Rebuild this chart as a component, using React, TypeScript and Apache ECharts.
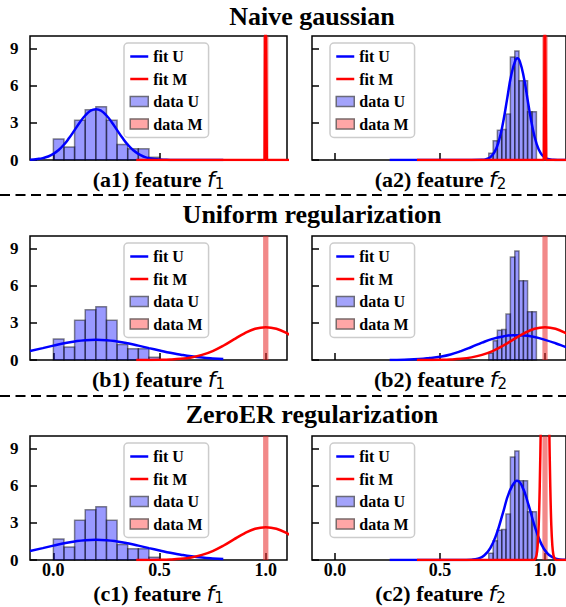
import React, { useEffect, useRef } from 'react';
import * as echarts from 'echarts';

// ---------------- data ----------------
const rowTitles = ['Naive gaussian', 'Uniform regularization', 'ZeroER regularization'];
const panelTags = ['a1', 'a2', 'b1', 'b2', 'c1', 'c2'];
const panelFeature = ['1', '2', '1', '2', '1', '2'];
const legendNames = ['fit U', 'fit M', 'data U', 'data M'];
const xTickValues = [0, 0.5, 1.0];
const yTickValues = [0, 3, 6, 9];

// histogram of unmatched pairs (density), feature f1
const f1BinEdges = [0, 0.05, 0.1, 0.15, 0.2, 0.25, 0.3, 0.35, 0.4, 0.45, 0.5];
const f1Density = [1.7, 1.05, 3.2, 4.05, 4.3, 3.2, 1.25, 0.9, 0.9, 0.22];
// histogram of unmatched pairs (density), feature f2
const f2BinEdges = [0.732, 0.753, 0.773, 0.794, 0.814, 0.835, 0.856, 0.876, 0.897, 0.917, 0.938, 0.959];
const f2Density = [0.55, 1.55, 2.4, 2.45, 3.7, 8.3, 8.8, 6.4, 6.4, 3.9, 3.9];
// histogram of matched pairs (all at 1.0)
const mBinEdges = [0.9875, 1.0125];
const mDensity = [40];

// fitted curves [x, density]
const a1FitU = [[-0.11, 0.02], [-0.075, 0.08], [-0.05, 0.15], [-0.025, 0.28], [0, 0.49], [0.025, 0.81], [0.05, 1.24], [0.075, 1.79], [0.1, 2.41], [0.125, 3.05], [0.15, 3.59], [0.175, 3.97], [0.2, 4.1], [0.225, 3.97], [0.25, 3.59], [0.275, 3.05], [0.3, 2.41], [0.325, 1.79], [0.35, 1.24], [0.375, 0.81], [0.4, 0.49], [0.425, 0.28], [0.45, 0.15], [0.5, 0.04], [0.55, 0.01], [0.6, 0], [0.8, 0]];
const a1FitM = [[0.39, 0], [0.995, 0], [0.999, 14], [1.001, 14], [1.005, 0], [1.15, 0]];
const a2FitU = [[0.26, 0], [0.6, 0], [0.7, 0.018], [0.72, 0.07], [0.74, 0.23], [0.76, 0.65], [0.78, 1.53], [0.8, 3.0], [0.82, 4.97], [0.84, 6.92], [0.86, 8.09], [0.868, 8.2], [0.88, 7.95], [0.9, 6.57], [0.92, 4.56], [0.94, 2.66], [0.96, 1.31], [0.98, 0.54], [1.0, 0.19], [1.02, 0.055], [1.04, 0.013], [1.06, 0], [1.15, 0]];
const a2FitM = [[0.39, 0], [0.995, 0], [0.999, 14], [1.001, 14], [1.005, 0], [1.15, 0]];
const b1FitU = [[-0.11, 0.73], [-0.05, 0.96], [0, 1.16], [0.05, 1.35], [0.1, 1.5], [0.15, 1.6], [0.2, 1.63], [0.25, 1.6], [0.3, 1.5], [0.35, 1.35], [0.4, 1.16], [0.45, 0.96], [0.5, 0.77], [0.55, 0.58], [0.6, 0.43], [0.65, 0.3], [0.7, 0.2], [0.75, 0.13], [0.8, 0.08]];
const b1FitM = [[0.39, 0.001], [0.45, 0.005], [0.5, 0.015], [0.55, 0.04], [0.6, 0.095], [0.65, 0.21], [0.7, 0.41], [0.75, 0.72], [0.8, 1.15], [0.85, 1.66], [0.9, 2.15], [0.95, 2.52], [1.0, 2.65], [1.05, 2.52], [1.1, 2.15], [1.15, 1.66], [1.2, 1.15]];
const b2FitU = [[0.26, 0.0], [0.33, 0.03], [0.4, 0.08], [0.45, 0.16], [0.5, 0.27], [0.55, 0.45], [0.6, 0.72], [0.65, 1.05], [0.7, 1.4], [0.75, 1.7], [0.8, 1.9], [0.85, 2.0], [0.9, 1.98], [0.95, 1.85], [1.0, 1.62], [1.05, 1.35], [1.1, 1.05], [1.15, 0.78]];
const b2FitM = [[0.39, 0.001], [0.45, 0.005], [0.5, 0.015], [0.55, 0.04], [0.6, 0.095], [0.65, 0.21], [0.7, 0.41], [0.75, 0.72], [0.8, 1.15], [0.85, 1.66], [0.9, 2.15], [0.95, 2.52], [1.0, 2.65], [1.05, 2.52], [1.1, 2.15], [1.15, 1.66], [1.2, 1.15]];
const c1FitU = [[-0.11, 0.73], [-0.05, 0.96], [0, 1.16], [0.05, 1.35], [0.1, 1.5], [0.15, 1.6], [0.2, 1.63], [0.25, 1.6], [0.3, 1.5], [0.35, 1.35], [0.4, 1.16], [0.45, 0.96], [0.5, 0.77], [0.55, 0.58], [0.6, 0.43], [0.65, 0.3], [0.7, 0.2], [0.75, 0.13], [0.8, 0.08]];
const c1FitM = [[0.39, 0.001], [0.45, 0.005], [0.5, 0.015], [0.55, 0.04], [0.6, 0.095], [0.65, 0.21], [0.7, 0.41], [0.75, 0.72], [0.8, 1.15], [0.85, 1.66], [0.9, 2.15], [0.95, 2.52], [1.0, 2.65], [1.05, 2.52], [1.1, 2.15], [1.15, 1.66], [1.2, 1.15]];
const c2FitU = [[0.26, 0], [0.6, 0], [0.65, 0.026], [0.68, 0.11], [0.71, 0.36], [0.74, 0.98], [0.77, 2.15], [0.8, 3.82], [0.83, 5.49], [0.86, 6.37], [0.866, 6.4], [0.89, 5.98], [0.92, 4.53], [0.95, 2.78], [0.98, 1.38], [1.01, 0.55], [1.04, 0.18], [1.07, 0.046], [1.1, 0.01], [1.15, 0]];
const c2FitM = [[0.39, 0], [0.92, 0], [0.94, 0.002], [0.95, 0.035], [0.955, 0.13], [0.96, 0.41], [0.965, 1.15], [0.97, 2.8], [0.975, 6.0], [0.98, 11], [0.985, 17.8], [0.99, 25], [1.0, 33], [1.01, 25], [1.015, 17.8], [1.02, 11], [1.025, 6.0], [1.03, 2.8], [1.035, 1.15], [1.04, 0.41], [1.045, 0.13], [1.05, 0.035], [1.06, 0.002], [1.08, 0], [1.15, 0]];

// ---------------- style / layout ----------------
const SERIF = '"Liberation Serif", "Times New Roman", serif';
const BLUE = '#0000ff';
const RED = '#ff0000';
const U_FILL = 'rgba(0,0,255,0.4)';
const U_EDGE = 'rgba(0,0,0,0.45)';
const M_FILL = 'rgba(232,40,40,0.55)';

const W = 566;
const H = 607;
const colLeft = [30, 312];
const rowTop = [36, 236, 436];
const GW = 257;
const GH = 124;
const titleY = [16.2, 214.8, 414.8];
const captionY = [179.6, 379.3, 593];
const sepY = [195, 396];
const legendDx = [94, 18];

const panelFits = [
  { fitU: a1FitU, fitM: a1FitM, smoothM: false },
  { fitU: a2FitU, fitM: a2FitM, smoothM: false },
  { fitU: b1FitU, fitM: b1FitM, smoothM: true },
  { fitU: b2FitU, fitM: b2FitM, smoothM: true },
  { fitU: c1FitU, fitM: c1FitM, smoothM: true },
  { fitU: c2FitU, fitM: c2FitM, smoothM: true },
];

function histData(edges: number[], h: number[]) {
  return h.map((v, i) => [edges[i], edges[i + 1], v]);
}

function rectRender(fill: string, stroke: string | null, lw: number) {
  return (params: any, api: any) => {
    const p0 = api.coord([api.value(0), 0]);
    const p1 = api.coord([api.value(1), api.value(2)]);
    const cs = params.coordSys;
    const r = echarts.graphic.clipRectByRect(
      { x: p0[0], y: p1[1], width: p1[0] - p0[0], height: p0[1] - p1[1] },
      { x: cs.x, y: cs.y, width: cs.width, height: cs.height }
    );
    if (!r) return null;
    return {
      type: 'rect',
      shape: r,
      style: { fill, stroke: stroke || 'none', lineWidth: stroke ? lw : 0 },
    };
  };
}

function buildOption() {
  const grid: any[] = [];
  const xAxis: any[] = [];
  const yAxis: any[] = [];
  const legend: any[] = [];
  const series: any[] = [];
  const graphic: any[] = [];

  for (let i = 0; i < 6; i++) {
    const row = Math.floor(i / 2);
    const col = i % 2;
    const left = colLeft[col];
    const top = rowTop[row];
    grid.push({ left, top, width: GW, height: GH, show: true, borderColor: '#000', borderWidth: 1.5, backgroundColor: 'transparent' });
    xAxis.push({
      gridIndex: i, type: 'value', min: -0.11, max: 1.1, position: 'bottom',
      axisLine: { show: false, onZero: false }, splitLine: { show: false },
      axisTick: { show: true, inside: true, length: 7, customValues: xTickValues, lineStyle: { color: '#000', width: 1.5 } },
      axisLabel: {
        show: row === 2, customValues: xTickValues, margin: 2.5,
        formatter: (v: number) => v.toFixed(1),
        fontFamily: SERIF, fontWeight: 'bold', fontSize: 18, lineHeight: 14, color: '#000',
      },
    });
    yAxis.push({
      gridIndex: i, type: 'value', min: 0, max: 10, position: 'left',
      axisLine: { show: false, onZero: false }, splitLine: { show: false },
      axisTick: { show: true, inside: true, length: 7, customValues: yTickValues, lineStyle: { color: '#000', width: 1.5 } },
      axisLabel: {
        show: col === 0, customValues: yTickValues, margin: 11.5,
        fontFamily: SERIF, fontWeight: 'bold', fontSize: 17, color: '#000',
      },
    });
    legend.push({
      orient: 'vertical', left: left + legendDx[col], top: top + 7,
      selectedMode: false,
      itemWidth: 18, itemHeight: 10, itemGap: 5.5,
      padding: [5, 6, 5, 5],
      backgroundColor: 'rgba(255,255,255,0.8)', borderColor: '#cccccc', borderWidth: 1.5, borderRadius: 4,
      textStyle: { fontFamily: SERIF, fontWeight: 'bold', fontSize: 16, color: '#000', lineHeight: 17 },
      data: [
        { name: legendNames[0], itemStyle: { opacity: 0 }, lineStyle: { width: 2.5, color: BLUE } },
        { name: legendNames[1], itemStyle: { opacity: 0 }, lineStyle: { width: 2.5, color: RED } },
        { name: legendNames[2], icon: 'rect', itemStyle: { color: '#a3a3fb', borderColor: '#6a6a7a', borderWidth: 1.5 } },
        { name: legendNames[3], icon: 'rect', itemStyle: { color: '#ffa6a6', borderColor: '#7a6a6a', borderWidth: 1.5 } },
      ],
    });

    const isF1 = col === 0;
    series.push({
      type: 'custom', name: legendNames[2], xAxisIndex: i, yAxisIndex: i,
      data: isF1 ? histData(f1BinEdges, f1Density) : histData(f2BinEdges, f2Density),
      encode: { x: [0, 1], y: 2 },
      itemStyle: { color: U_FILL, borderColor: U_EDGE, borderWidth: 1.5 },
      renderItem: rectRender(U_FILL, U_EDGE, 1.5),
      z: 2,
    });
    series.push({
      type: 'custom', name: legendNames[3], xAxisIndex: i, yAxisIndex: i,
      data: histData(mBinEdges, mDensity),
      encode: { x: [0, 1], y: 2 },
      itemStyle: { color: M_FILL },
      renderItem: rectRender(M_FILL, null, 0),
      z: 2,
    });
    series.push({
      type: 'line', name: legendNames[0], xAxisIndex: i, yAxisIndex: i,
      data: panelFits[i].fitU, symbol: 'none', showSymbol: false, smooth: true,
      lineStyle: { color: BLUE, width: 2.5 }, itemStyle: { color: BLUE }, z: 3,
    });
    series.push({
      type: 'line', name: legendNames[1], xAxisIndex: i, yAxisIndex: i,
      data: panelFits[i].fitM, symbol: 'none', showSymbol: false, smooth: panelFits[i].smoothM ? 0.4 : false,
      lineStyle: { color: RED, width: 2.5 }, itemStyle: { color: RED }, z: 4,
    });

    graphic.push({
      type: 'text', z: 10,
      style: {
        text: `{a|(${panelTags[i]}) feature }{f|f}{s|${panelFeature[i]}}`,
        x: left + GW / 2, y: captionY[row], align: 'center', verticalAlign: 'middle',
        rich: {
          a: { fontFamily: SERIF, fontWeight: 'bold', fontSize: 22, lineHeight: 24, verticalAlign: 'middle', fill: '#000' },
          f: { fontFamily: '"DejaVu Sans"', fontStyle: 'italic', fontSize: 22, lineHeight: 24, verticalAlign: 'middle', fill: '#000' },
          s: { fontFamily: '"DejaVu Sans"', fontSize: 15, lineHeight: 11, verticalAlign: 'bottom', fill: '#000' },
        },
      },
    });
  }

  rowTitles.forEach((t, r) => {
    graphic.push({
      type: 'text', z: 10,
      style: { text: t, x: 312, y: titleY[r], align: 'center', verticalAlign: 'middle', fontFamily: SERIF, fontWeight: 'bold', fontSize: 26, fill: '#000' },
    });
  });
  sepY.forEach((y) => {
    graphic.push({
      type: 'line', z: 10,
      shape: { x1: 0, y1: y, x2: W, y2: y },
      style: { stroke: '#000', lineWidth: 2, lineDash: [10, 5.5] },
    });
  });

  return { animation: false, backgroundColor: '#ffffff', grid, xAxis, yAxis, legend, series, graphic };
}

export default function App() {
  const ref = useRef<HTMLDivElement>(null);
  useEffect(() => {
    document.body.style.margin = '0';
    if (!ref.current) return;
    const chart = echarts.init(ref.current, undefined, { renderer: 'svg' });
    chart.setOption(buildOption() as any);
    return () => chart.dispose();
  }, []);
  return <div ref={ref} style={{ width: W, height: H }} />;
}
